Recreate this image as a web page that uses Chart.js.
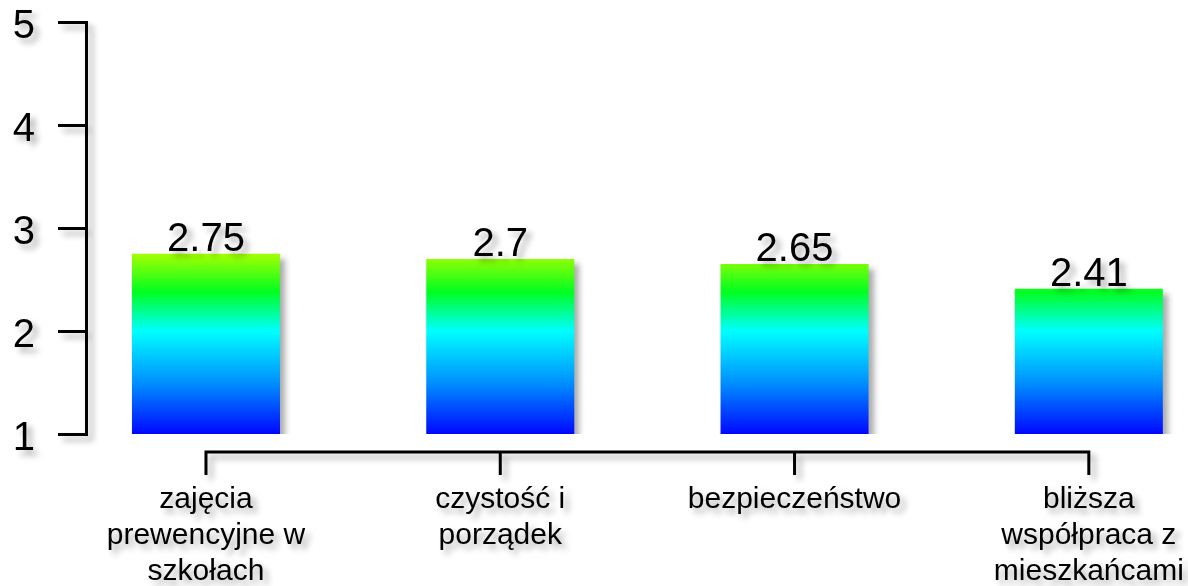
<!DOCTYPE html>
<html>
<head>
<meta charset="utf-8">
<script src="https://cdn.jsdelivr.net/npm/chart.js@4/dist/chart.umd.min.js"></script>
<style>
    html, body { margin: 0; padding: 0; background: #fff; }
    #wrap { width: 1188px; height: 586px; }
</style>
</head>
<body>
<div id="wrap"><canvas id="scoreChart"></canvas></div>
<script>
const categories = [
    ['zajęcia', 'prewencyjne w', 'szkołach'],
    ['czystość i', 'porządek'],
    ['bezpieczeństwo'],
    ['bliższa', 'współpraca z', 'mieszkańcami']
];
const scores = [2.75, 2.7, 2.65, 2.41];
const yTicks = [1, 2, 3, 4, 5];

const FONT = "'Liberation Sans', Arial, sans-serif";

// colour runs with the value: blue at 1, cyan at 2, green, then yellow-green
const barGradient = (context) => {
    const { chart } = context;
    const { chartArea, scales } = chart;
    if (!chartArea) return '#00ffff';
    const y = scales.y;
    const g = chart.ctx.createLinearGradient(0, y.getPixelForValue(1), 0, y.getPixelForValue(5));
    g.addColorStop(0, '#0008ff');
    g.addColorStop(0.125, '#0090ff');
    g.addColorStop(0.25, '#00ffff');
    g.addColorStop(0.345, '#00ff20');
    g.addColorStop(0.44, '#aaff00');
    g.addColorStop(0.55, '#ffff00');
    g.addColorStop(1, '#ff0000');
    return g;
};

const shadowPlugin = {
    id: 'shadow',
    beforeDraw(chart) {
        const ctx = chart.ctx;
        ctx.save();
        ctx.shadowColor = 'rgba(0, 0, 0, 0.33)';
        ctx.shadowOffsetX = 5;
        ctx.shadowOffsetY = 5;
        ctx.shadowBlur = 6;
    },
    afterDraw(chart) {
        chart.ctx.restore();
    }
};

const extrasPlugin = {
    id: 'extras',
    afterDatasetsDraw(chart) {
        const ctx = chart.ctx;
        const x = chart.scales.x;
        const bottom = chart.chartArea.bottom;

        // bracket-shaped category axis between first and last category
        const lineY = bottom + 18;
        const first = x.getPixelForValue(0);
        const last = x.getPixelForValue(categories.length - 1);
        ctx.save();
        ctx.strokeStyle = '#000';
        ctx.lineWidth = 3;
        ctx.beginPath();
        ctx.moveTo(first, lineY);
        ctx.lineTo(last, lineY);
        categories.forEach((c, i) => {
            const px = x.getPixelForValue(i);
            ctx.moveTo(px, lineY - 1.5);
            ctx.lineTo(px, lineY + 23);
        });
        ctx.stroke();

        // value labels
        ctx.fillStyle = '#000';
        ctx.font = `40px ${FONT}`;
        ctx.textAlign = 'center';
        ctx.textBaseline = 'alphabetic';
        chart.getDatasetMeta(0).data.forEach((bar, i) => {
            ctx.fillText(String(scores[i]), bar.x, bar.y - 3);
        });
        ctx.restore();
    }
};

new Chart(document.getElementById('scoreChart'), {
    type: 'bar',
    data: {
        datasets: [{
            data: scores.map((v, i) => ({ x: i, y: v })),
            backgroundColor: barGradient,
            borderWidth: 0,
            categoryPercentage: 1,
            barPercentage: 0.503
        }]
    },
    options: {
        responsive: true,
        maintainAspectRatio: false,
        animation: false,
        layout: { padding: { left: 13, right: 0, top: 22, bottom: 0 } },
        plugins: {
            legend: { display: false },
            tooltip: { enabled: false }
        },
        scales: {
            x: {
                type: 'linear',
                offset: false,
                min: -0.4077,
                max: 3.337,
                afterBuildTicks: (scale) => {
                    scale.ticks = categories.map((c, i) => ({ value: i }));
                },
                afterFit: (scale) => {
                    scale.height = 152;
                    scale.paddingLeft = 0;
                    scale.paddingRight = 0;
                },
                grid: { display: false, drawTicks: false, offset: false },
                border: { display: false },
                ticks: {
                    autoSkip: false,
                    maxRotation: 0,
                    padding: 48,
                    color: '#000',
                    font: { family: FONT, size: 30, lineHeight: 1.2 },
                    callback: (value) => categories[value]
                }
            },
            y: {
                min: 1,
                max: 5,
                afterBuildTicks: (scale) => {
                    scale.ticks = yTicks.map(v => ({ value: v }));
                },
                afterFit: (scale) => {
                    scale.width = 73;
                    scale.paddingTop = 0;
                    scale.paddingBottom = 0;
                },
                grid: {
                    drawOnChartArea: false,
                    drawTicks: true,
                    tickLength: 28,
                    color: '#000',
                    lineWidth: 3
                },
                border: { display: true, color: '#000', width: 3 },
                ticks: {
                    padding: 23,
                    labelOffset: 5,
                    color: '#000',
                    font: { family: FONT, size: 40 }
                }
            }
        }
    },
    plugins: [shadowPlugin, extrasPlugin]
});
</script>
</body>
</html>
